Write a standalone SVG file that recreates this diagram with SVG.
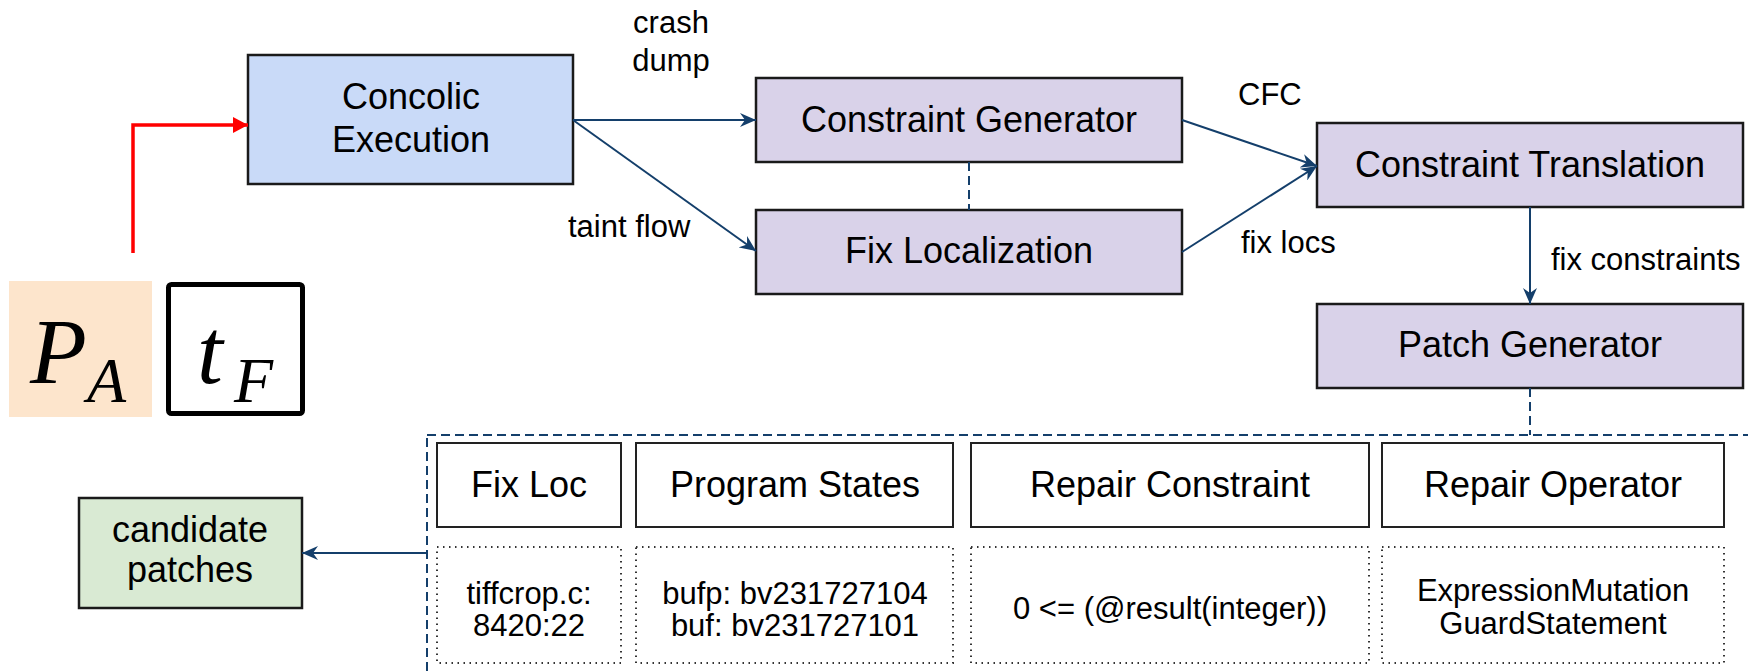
<svg xmlns="http://www.w3.org/2000/svg" width="1748" height="671" viewBox="0 0 1748 671">
  <style>
    .node { stroke: #1a1a1a; stroke-width: 2.5; }
    .blue { fill: #c9daf8; }
    .purple { fill: #d9d2e9; }
    .green { fill: #d9ead3; }
    .hdr { fill: #ffffff; stroke: #222222; stroke-width: 2; }
    .dot { fill: #ffffff; stroke: #333333; stroke-width: 2; stroke-dasharray: 1.5 4.5; }
    .t { font-family: "Liberation Sans", Arial, sans-serif; fill: #000000; }
    .big { font-size: 36px; text-anchor: middle; }
    .h { font-size: 36px; text-anchor: middle; }
    .lbl { font-size: 31px; }
    .small { font-size: 31px; text-anchor: middle; }
    .math { font-family: "Liberation Serif", "Times New Roman", serif; font-style: italic; fill: #000000; }
    .edge { fill: none; stroke: #143f6b; stroke-width: 2; }
    .dash { fill: none; stroke: #143f6b; stroke-width: 2; stroke-dasharray: 9 5; }
  </style>
  <defs>
    <marker id="arrow" markerUnits="userSpaceOnUse" viewBox="0 0 16 14" refX="16" refY="7" markerWidth="16" markerHeight="14" orient="auto">
      <path d="M0,0 L16,7 L0,14 L5,7 z" fill="#143f6b"/>
    </marker>
    <marker id="redhead" markerUnits="userSpaceOnUse" viewBox="0 0 15 16" refX="15" refY="8" markerWidth="15" markerHeight="16" orient="auto">
      <path d="M0,0 L15,8 L0,16 z" fill="#ff0000"/>
    </marker>
  </defs>

  <rect width="1748" height="671" fill="#ffffff"/>

  <!-- inputs: program and failing test -->
  <g id="input-program">
    <rect x="9" y="281" width="143" height="136" fill="#fde5cc"/>
    <text class="math" x="30" y="383" font-size="93">P</text>
    <text class="math" x="87" y="402" font-size="64">A</text>
  </g>
  <g id="input-test">
    <rect x="168.5" y="284.5" width="134" height="129" rx="3" fill="#ffffff" stroke="#000000" stroke-width="5"/>
    <text class="math" x="197" y="383" font-size="93">t</text>
    <text class="math" x="234" y="402" font-size="64">F</text>
  </g>

  <!-- pipeline stages -->
  <g id="concolic-execution">
    <rect class="node blue" x="248" y="55" width="325" height="129"/>
    <text class="t big" x="411" y="109">Concolic</text>
    <text class="t big" x="411" y="152">Execution</text>
  </g>
  <g id="constraint-generator">
    <rect class="node purple" x="756" y="78" width="426" height="84"/>
    <text class="t big" x="969" y="132">Constraint Generator</text>
  </g>
  <g id="fix-localization">
    <rect class="node purple" x="756" y="210" width="426" height="84"/>
    <text class="t big" x="969" y="263">Fix Localization</text>
  </g>
  <g id="constraint-translation">
    <rect class="node purple" x="1317" y="123" width="426" height="84"/>
    <text class="t big" x="1530" y="177">Constraint Translation</text>
  </g>
  <g id="patch-generator">
    <rect class="node purple" x="1317" y="304" width="426" height="84"/>
    <text class="t big" x="1530" y="357">Patch Generator</text>
  </g>
  <g id="candidate-patches">
    <rect class="node green" x="79" y="498" width="223" height="110"/>
    <text class="t big" x="190" y="542">candidate</text>
    <text class="t big" x="190" y="582">patches</text>
  </g>

  <!-- patch details panel -->
  <g id="patch-details">
    <rect class="dash" x="427" y="435" width="1400" height="300"/>
    <g id="fix-loc">
      <rect class="hdr" x="437" y="443" width="184" height="84"/>
      <text class="t h" x="529" y="497">Fix Loc</text>
      <rect class="dot" x="437" y="547" width="184" height="116"/>
      <text class="t small" x="529" y="604">tiffcrop.c:</text>
      <text class="t small" x="529" y="636">8420:22</text>
    </g>
    <g id="program-states">
      <rect class="hdr" x="636" y="443" width="317" height="84"/>
      <text class="t h" x="795" y="497">Program States</text>
      <rect class="dot" x="636" y="547" width="317" height="116"/>
      <text class="t small" x="795" y="604">bufp: bv231727104</text>
      <text class="t small" x="795" y="636">buf: bv231727101</text>
    </g>
    <g id="repair-constraint">
      <rect class="hdr" x="971" y="443" width="398" height="84"/>
      <text class="t h" x="1170" y="497">Repair Constraint</text>
      <rect class="dot" x="971" y="547" width="398" height="116"/>
      <text class="t small" x="1170" y="619">0 &lt;= (@result(integer))</text>
    </g>
    <g id="repair-operator">
      <rect class="hdr" x="1382" y="443" width="342" height="84"/>
      <text class="t h" x="1553" y="497">Repair Operator</text>
      <rect class="dot" x="1382" y="547" width="342" height="116"/>
      <text class="t small" x="1553" y="601">ExpressionMutation</text>
      <text class="t small" x="1553" y="634">GuardStatement</text>
    </g>
  </g>

  <!-- connectors -->
  <g id="connectors">
    <polyline points="133,253 133,125 248,125" fill="none" stroke="#ff0000" stroke-width="3.5" marker-end="url(#redhead)"/>
    <line class="edge" x1="573" y1="120" x2="756" y2="120" marker-end="url(#arrow)"/>
    <line class="edge" x1="573" y1="120" x2="756" y2="251" marker-end="url(#arrow)"/>
    <line class="dash" x1="969" y1="162" x2="969" y2="210"/>
    <line class="edge" x1="1182" y1="120" x2="1317" y2="166" marker-end="url(#arrow)"/>
    <line class="edge" x1="1182" y1="252" x2="1317" y2="166" marker-end="url(#arrow)"/>
    <line class="edge" x1="1530" y1="207" x2="1530" y2="304" marker-end="url(#arrow)"/>
    <line class="dash" x1="1530" y1="388" x2="1530" y2="435"/>
    <line class="edge" x1="427" y1="553" x2="302" y2="553" marker-end="url(#arrow)"/>

    <text class="t lbl" x="671" y="33" text-anchor="middle">crash</text>
    <text class="t lbl" x="671" y="71" text-anchor="middle">dump</text>
    <text class="t lbl" x="568" y="237">taint flow</text>
    <text class="t lbl" x="1238" y="105">CFC</text>
    <text class="t lbl" x="1241" y="253">fix locs</text>
    <text class="t lbl" x="1551" y="270">fix constraints</text>
  </g>
</svg>
